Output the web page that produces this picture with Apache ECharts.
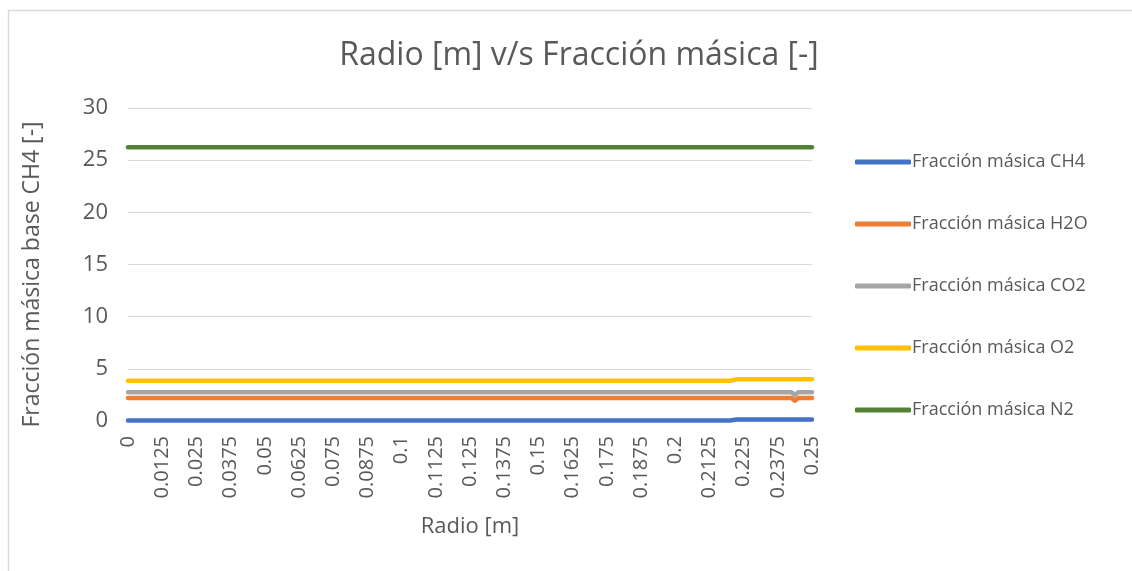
<!DOCTYPE html>
<html>
<head>
<meta charset="utf-8">
<script src="https://cdn.jsdelivr.net/npm/echarts@6/dist/echarts.min.js"></script>
<style>
  html, body { margin: 0; padding: 0; background: #fff; }
  #chart { width: 1132px; height: 571px; }
</style>
</head>
<body>
<div id="chart"></div>
<script>
// Radial positions [m] where the profiles change
const radio = [0, 0.22, 0.2225, 0.2425, 0.24375, 0.245, 0.25];

// Mass fractions (base CH4) at those radii
const ch4 = [0.05, 0.05, 0.15, 0.15, 0.15, 0.15, 0.15];
const h2o = [2.2, 2.2, 2.2, 2.2, 1.95, 2.2, 2.2];
const co2 = [2.75, 2.75, 2.75, 2.75, 2.5, 2.75, 2.75];
const o2  = [3.85, 3.85, 4.0, 4.0, 4.0, 4.0, 4.0];
const n2  = [26.25, 26.25, 26.25, 26.25, 26.25, 26.25, 26.25];

// X tick labels (every 0.0125 m)
const xTicks = ['0', '0.0125', '0.025', '0.0375', '0.05', '0.0625', '0.075', '0.0875',
  '0.1', '0.1125', '0.125', '0.1375', '0.15', '0.1625', '0.175', '0.1875', '0.2',
  '0.2125', '0.225', '0.2375', '0.25'];

const seriesNames = ['Fracción másica CH4', 'Fracción másica H2O', 'Fracción másica CO2',
  'Fracción másica O2', 'Fracción másica N2'];
const seriesValues = [ch4, h2o, co2, o2, n2];
const colors = ['#4472c4', '#ed7d31', '#a5a5a5', '#ffc000', '#548235'];

const font = '"Open Sans", "Noto Sans", sans-serif';
const textColor = '#595959';

const chart = echarts.init(document.getElementById('chart'));
chart.setOption({
  animation: false,
  backgroundColor: '#fff',
  textStyle: { fontFamily: font },
  title: {
    text: 'Radio [m] v/s Fracción másica [-]',
    left: 574, top: 35, textAlign: 'center',
    textStyle: { fontFamily: font, fontSize: 32, fontWeight: 'normal', color: textColor }
  },
  graphic: [{
    type: 'rect', left: 6, top: 8,
    shape: { width: 1140, height: 580 },
    style: { fill: 'none', stroke: '#d9d9d9', lineWidth: 1.5 }
  }],
  legend: {
    orient: 'vertical', left: 850, top: 146, itemGap: 40,
    itemWidth: 56, itemHeight: 5, icon: 'roundRect',
    textStyle: { fontFamily: font, fontSize: 18, lineHeight: 22, color: textColor, padding: [0, 0, 0, -4] },
    data: seriesNames
  },
  grid: { left: 128, right: 320, top: 108, bottom: 150 },
  xAxis: {
    type: 'value', min: 0, max: 0.25, interval: 0.0125,
    name: 'Radio [m]', nameLocation: 'middle', nameGap: 95,
    nameTextStyle: { fontFamily: font, fontSize: 22, color: textColor },
    axisLine: { show: true, lineStyle: { color: '#d9d9d9' } },
    axisTick: { show: false },
    splitLine: { show: false },
    axisLabel: {
      rotate: 90, fontSize: 20, color: textColor, margin: 15, fontFamily: font,
      formatter: v => xTicks[Math.round(v / 0.0125)]
    }
  },
  yAxis: {
    type: 'value', min: 0, max: 30, interval: 5,
    name: 'Fracción másica base CH4 [-]', nameLocation: 'middle', nameGap: 84,
    nameTextStyle: { fontFamily: font, fontSize: 23, color: textColor, padding: [0, 20, 0, 0] },
    axisLine: { show: false }, axisTick: { show: false },
    splitLine: { lineStyle: { color: '#d9d9d9', width: 1 } },
    axisLabel: { fontSize: 22, color: textColor, margin: 20, fontFamily: font }
  },
  series: seriesNames.map((name, i) => ({
    name, type: 'line', showSymbol: false, symbol: 'none',
    data: radio.map((r, k) => [r, seriesValues[i][k]]),
    lineStyle: { color: colors[i], width: 4.5, cap: 'round', join: 'round' },
    itemStyle: { color: colors[i] }
  }))
});
</script>
</body>
</html>
